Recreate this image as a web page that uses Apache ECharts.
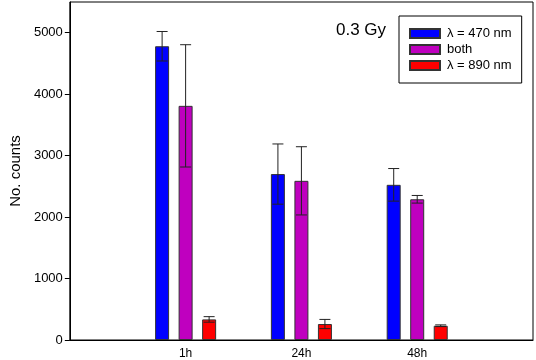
<!DOCTYPE html>
<html>
<head>
<meta charset="utf-8">
<script src="https://cdn.jsdelivr.net/npm/echarts@6/dist/echarts.min.js"></script>
<style>
  html, body { margin: 0; padding: 0; background: #fff; }
  #chart { width: 536px; height: 360px; }
</style>
</head>
<body>
<div id="chart"></div>
<script>
// 时间点（两端留空位）
const categories = ['', '1h', '24h', '48h', ''];
const seriesNames = ['λ = 470 nm', 'both', 'λ = 890 nm'];
const blueValues = ['-', 4780, 2700, 2525, '-'];
const magentaValues = ['-', 3810, 2590, 2290, '-'];
const redValues = ['-', 335, 260, 232, '-'];
const blueErrors = [0, 240, 490, 265, 0];
const magentaErrors = [0, 995, 555, 62, 0];
const redErrors = [0, 45, 75, 14, 0];
const yTicks = [0, 1000, 2000, 3000, 4000, 5000];

const colors = ['#0000ff', '#bf00bf', '#ff0000'];
const font = 'Liberation Sans, Arial, sans-serif';

const chart = echarts.init(document.getElementById('chart'));

// 误差棒数据：[类别索引, 值, 误差]
function errData(values, errors) {
  const out = [];
  values.forEach((v, i) => {
    if (v !== '-') out.push([i, v, errors[i]]);
  });
  return out;
}

function errorSeries(values, errors, offset) {
  return {
    type: 'custom',
    z: 10,
    silent: true,
    renderItem: function (params, api) {
      const idx = api.value(0);
      const v = api.value(1);
      const e = api.value(2);
      const top = api.coord([idx, v + e]);
      const bot = api.coord([idx, v - e]);
      const x = top[0] + offset;
      const half = 5.5;
      const style = { stroke: '#222', lineWidth: 1 };
      return {
        type: 'group',
        children: [
          { type: 'line', shape: { x1: x, y1: top[1], x2: x, y2: bot[1] }, style },
          { type: 'line', shape: { x1: x - half, y1: top[1], x2: x + half, y2: top[1] }, style },
          { type: 'line', shape: { x1: x - half, y1: bot[1], x2: x + half, y2: bot[1] }, style }
        ]
      };
    },
    data: errData(values, errors)
  };
}

function barSeries(name, values, color) {
  return {
    name: name,
    type: 'bar',
    barWidth: 14,
    barGap: '68%',
    itemStyle: { color: color, borderColor: '#333', borderWidth: 1 },
    data: values
  };
}

const option = {
  animation: false,
  title: {
    text: '0.3 Gy',
    left: 336,
    top: 22,
    padding: 0,
    textStyle: { fontFamily: font, fontSize: 17, fontWeight: 'normal', color: '#000' }
  },
  legend: {
    data: seriesNames,
    left: 399,
    top: 16,
    orient: 'vertical',
    icon: 'rect',
    padding: [10, 10, 10, 10],
    itemWidth: 30,
    itemHeight: 9,
    itemGap: 1,
    borderColor: '#000',
    borderWidth: 1,
    borderRadius: 0,
    backgroundColor: '#fff',
    textStyle: { fontFamily: font, fontSize: 13, color: '#000', lineHeight: 15, padding: [0, 0, 0, 2] }
  },
  grid: {
    left: 64,
    right: 3,
    top: 2,
    bottom: 20,
    show: true,
    borderColor: '#000',
    borderWidth: 1
  },
  xAxis: {
    type: 'category',
    data: categories,
    boundaryGap: false,
    axisLine: { lineStyle: { color: '#000' } },
    axisTick: { show: false },
    axisLabel: { interval: 0, fontFamily: font, fontSize: 12, color: '#000', margin: 8 },
    splitLine: { show: false }
  },
  yAxis: {
    type: 'value',
    min: 0,
    max: 5500,
    name: 'No. counts',
    nameLocation: 'middle',
    nameGap: 45,
    nameTextStyle: { fontFamily: font, fontSize: 15, color: '#000' },
    axisLine: { show: true, lineStyle: { color: '#000' } },
    axisTick: { show: true, length: 5, customValues: yTicks, lineStyle: { color: '#000' } },
    axisLabel: {
      customValues: yTicks,
      formatter: v => String(v),
      fontFamily: font, fontSize: 13, color: '#000', margin: 7
    },
    splitLine: { show: false }
  },
  series: [
    barSeries(seriesNames[0], blueValues, colors[0]),
    barSeries(seriesNames[1], magentaValues, colors[1]),
    barSeries(seriesNames[2], redValues, colors[2]),
    errorSeries(blueValues, blueErrors, -23.5),
    errorSeries(magentaValues, magentaErrors, 0),
    errorSeries(redValues, redErrors, 23.5)
  ]
};

chart.setOption(option);
</script>
</body>
</html>
